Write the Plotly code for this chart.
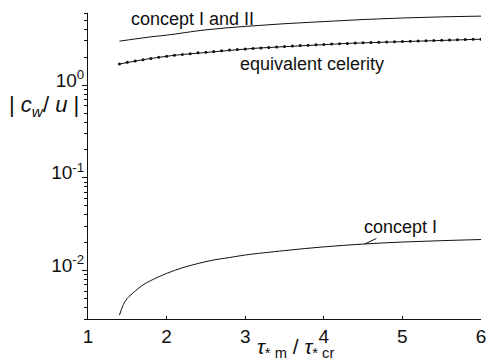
import numpy as np
import plotly.graph_objects as go

# Shear-stress ratio tau*m / tau*cr
tau_ratio_ii = [1.4, 1.6, 1.8, 2.0, 2.5, 3.0, 3.5, 4.0, 4.5, 5.0, 5.5, 6.0]
# |c_w/u| for concept I and II
cw_concept_i_ii = [2.98, 3.15, 3.32, 3.46, 3.95, 4.30, 4.60, 4.85, 5.10, 5.30, 5.45, 5.55]

# Equivalent celerity, sampled every 0.1
tau_ratio_eq = [1.4, 1.5, 1.6, 1.7, 1.8, 1.9, 2.0, 2.1, 2.2, 2.3, 2.4, 2.5, 2.6, 2.7,
                2.8, 2.9, 3.0, 3.1, 3.2, 3.3, 3.4, 3.5, 3.6, 3.7, 3.8, 3.9, 4.0, 4.1,
                4.2, 4.3, 4.4, 4.5, 4.6, 4.7, 4.8, 4.9, 5.0, 5.1, 5.2, 5.3, 5.4, 5.5,
                5.6, 5.7, 5.8, 5.9, 6.0]
cw_equivalent = [1.69, 1.76, 1.82, 1.88, 1.94, 2.00, 2.05, 2.10, 2.14, 2.18, 2.23, 2.27,
                 2.31, 2.35, 2.39, 2.43, 2.46, 2.49, 2.52, 2.55, 2.58, 2.61, 2.64, 2.67,
                 2.70, 2.72, 2.75, 2.77, 2.80, 2.82, 2.84, 2.86, 2.88, 2.90, 2.92, 2.94,
                 2.96, 2.98, 3.00, 3.02, 3.03, 3.05, 3.07, 3.09, 3.10, 3.12, 3.13]

# Concept I
tau_ratio_i = [1.4, 1.45, 1.5, 1.6, 1.7, 1.8, 2.0, 2.2, 2.4, 2.6, 2.8, 3.0, 3.5, 4.0,
               4.5, 5.0, 5.5, 6.0]
cw_concept_i = [0.0033, 0.0043, 0.0050, 0.0060, 0.0070, 0.0078, 0.0093, 0.0107, 0.0119,
                0.0130, 0.0138, 0.0147, 0.0164, 0.0180, 0.0193, 0.0203, 0.0210, 0.0216]

x_ticks = [1, 2, 3, 4, 5, 6]
y_ticks = [0.01, 0.1, 1]
y_tick_text = ["10<sup>-2</sup>", "10<sup>-1</sup>", "10<sup>0</sup>"]

FONT = "Liberation Sans, Arial, sans-serif"
INK = "#111111"

minor_vals = [k * 10.0 ** d for d in (-3, -2, -1, 0) for k in range(2, 10)]

fig = go.Figure()
fig.add_trace(go.Scatter(x=tau_ratio_ii, y=cw_concept_i_ii, mode="lines",
                         line=dict(color=INK, width=1, shape="spline")))
fig.add_trace(go.Scatter(x=tau_ratio_eq, y=cw_equivalent, mode="lines+markers",
                         line=dict(color=INK, width=1),
                         marker=dict(color=INK, size=3, symbol="circle")))
fig.add_trace(go.Scatter(x=tau_ratio_i, y=cw_concept_i, mode="lines",
                         line=dict(color=INK, width=1, shape="spline")))

fig.update_layout(
    width=491, height=362,
    margin=dict(l=88, r=5, t=13, b=43),
    paper_bgcolor="white", plot_bgcolor="white",
    showlegend=False,
    font=dict(family=FONT, size=18, color=INK),
)
fig.update_xaxes(range=[1, 6], tickvals=x_ticks, showline=True, linecolor=INK,
                 linewidth=1, ticks="inside", ticklen=3, tickcolor=INK,
                 ticklabeloverflow="allow",
                 showgrid=False, zeroline=False, tickfont=dict(size=19))
fig.update_yaxes(type="log", range=[np.log10(0.003), np.log10(6)],
                 tickvals=y_ticks, ticktext=y_tick_text,
                 showline=True, linecolor=INK, linewidth=1,
                 ticks="outside", ticklen=5, tickcolor=INK,
                 ticklabelstandoff=-6, ticklabelshift=-5,
                 minor=dict(tickvals=minor_vals, ticks="outside", ticklen=3,
                            tickcolor=INK, showgrid=False),
                 showgrid=False, zeroline=False, tickfont=dict(size=19))

center = dict(xanchor="center", yanchor="middle")
annotations = [
    dict(text="concept I and II", x=2.33, y=0.98, xref="x", yref="paper",
         showarrow=False, font=dict(size=18), **center),
    dict(text="equivalent celerity", x=3.85, y=0.833, xref="x", yref="paper",
         showarrow=False, font=dict(size=18), **center),
    dict(text="concept I", x=4.52, y=np.log10(0.0193), xref="x", yref="y",
         showarrow=True, arrowhead=0, arrowwidth=1, arrowcolor=INK,
         ax=36, ay=-17, standoff=0, font=dict(size=18)),
    dict(text="| <i>c<sub>w</sub></i>/ <i>u</i> |", x=-0.112, y=0.697,
         xref="paper", yref="paper", showarrow=False, font=dict(size=22), **center),
    dict(text="<i>τ</i><sub>* m</sub> / <i>τ</i><sub>* cr</sub>", x=0.528, y=-0.095,
         xref="paper", yref="paper", showarrow=False, font=dict(size=21), **center),
]
fig.update_layout(annotations=annotations)

fig.write_html("out.html")
